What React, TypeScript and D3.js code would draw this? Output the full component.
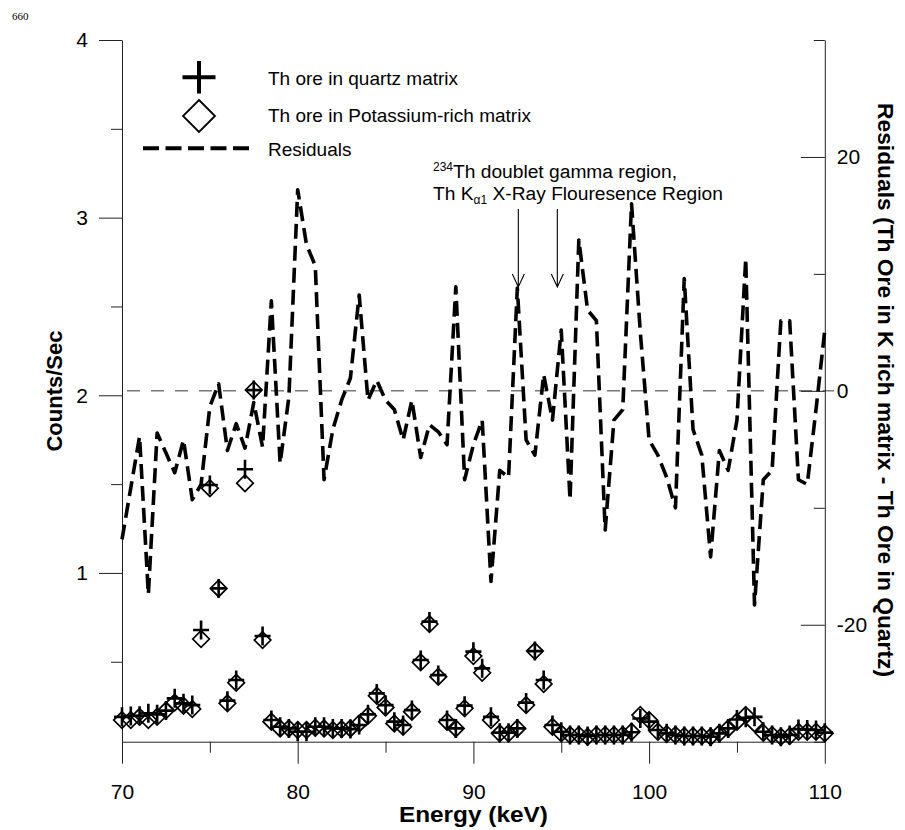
import React, { useEffect, useRef } from "react";
import * as d3 from "d3";

// energy channels (keV)
const energies = [
  70, 70.5, 71, 71.5, 72, 72.5, 73, 73.5, 74, 74.5,
  75, 75.5, 76, 76.5, 77, 77.5, 78, 78.5, 79, 79.5,
  80, 80.5, 81, 81.5, 82, 82.5, 83, 83.5, 84, 84.5,
  85, 85.5, 86, 86.5, 87, 87.5, 88, 88.5, 89, 89.5,
  90, 90.5, 91, 91.5, 92, 92.5, 93, 93.5, 94, 94.5,
  95, 95.5, 96, 96.5, 97, 97.5, 98, 98.5, 99, 99.5,
  100, 100.5, 101, 101.5, 102, 102.5, 103, 103.5, 104, 104.5,
  105, 105.5, 106, 106.5, 107, 107.5, 108, 108.5, 109, 109.5,
  110,
];

// Th ore in quartz matrix (counts/sec)
const quartzCounts = [
  0.19, 0.195, 0.196, 0.21, 0.204, 0.225, 0.294, 0.266, 0.256, 0.679,
  1.495, 0.913, 0.281, 0.397, 1.584, 2.03, 0.645, 0.172, 0.134, 0.125,
  0.106, 0.106, 0.134, 0.134, 0.125, 0.125, 0.121, 0.144, 0.204, 0.322,
  0.256, 0.163, 0.144, 0.228, 0.51, 0.726, 0.425, 0.172, 0.125, 0.253,
  0.557, 0.463, 0.19, 0.101, 0.101, 0.125, 0.27, 0.56, 0.397, 0.144,
  0.106, 0.088, 0.088, 0.082, 0.088, 0.088, 0.088, 0.088, 0.103, 0.181,
  0.163, 0.116, 0.097, 0.088, 0.082, 0.082, 0.082, 0.078, 0.097, 0.125,
  0.175, 0.185, 0.19, 0.106, 0.088, 0.078, 0.088, 0.121, 0.119, 0.116,
  0.101,
];

// Th ore in Potassium-rich matrix (counts/sec)
const potassiumCounts = [
  0.172, 0.172, 0.19, 0.172, 0.19, 0.225, 0.27, 0.253, 0.234, 0.628,
  1.477, 0.913, 0.266, 0.382, 1.505, 2.03, 0.622, 0.163, 0.125, 0.125,
  0.116, 0.116, 0.129, 0.125, 0.116, 0.121, 0.125, 0.153, 0.196, 0.309,
  0.243, 0.153, 0.134, 0.219, 0.497, 0.712, 0.416, 0.163, 0.125, 0.238,
  0.532, 0.438, 0.172, 0.097, 0.097, 0.125, 0.256, 0.56, 0.375, 0.134,
  0.097, 0.088, 0.088, 0.078, 0.088, 0.088, 0.088, 0.088, 0.106, 0.2,
  0.172, 0.106, 0.093, 0.088, 0.082, 0.082, 0.082, 0.078, 0.097, 0.125,
  0.163, 0.2, 0.153, 0.1, 0.088, 0.078, 0.082, 0.106, 0.106, 0.106,
  0.097,
];

// residuals (K rich - quartz), right axis
const residuals = [
  -12.7, -8.3, -3.9, -17.4, -3.6, -5.3, -7.0, -4.2, -9.3, -8.0,
  -1.35, 0.6, -5.1, -2.8, -4.9, -1.0, -4.8, 7.7, -6.2, -0.5,
  17.2, 12.5, 10.7, -7.6, -3.3, -0.8, 1.1, 8.2, -0.8, 0.9,
  -0.8, -1.6, -4.2, -0.8, -5.7, -2.9, -3.5, -4.6, 8.9, -7.6,
  -4.6, -2.5, -16.3, -6.8, -7.4, 8.8, -4.2, -5.5, 1.4, -2.5,
  5.2, -9.3, 12.9, 6.9, 6.0, -11.9, -2.5, -1.6, 16.0, 5.0,
  -4.2, -5.5, -7.4, -10.0, 9.6, -3.3, -5.5, -14.2, -5.1, -6.8,
  -2.5, 11.3, -18.3, -7.6, -6.8, 6.0, 6.0, -7.6, -8.0, -1.6,
  5.2,
];

const countTicks = [1, 2, 3, 4];
const countMinorTicks = [0.5, 1.5, 2.5, 3.5];
const residualTicks = [-20, 0, 20];
const residualMinorTicks = [-30, -10, 10, 30];
const energyTicks = [70, 80, 90, 100, 110];
const energyMinorTicks = [75, 85, 95, 105];
const legendLabels = [
  "Th ore in quartz matrix",
  "Th ore in Potassium-rich matrix",
  "Residuals",
];
const arrowEnergies = [92.556, 94.776];

const W = 905;
const H = 830;
const FONT = '"Liberation Sans", Arial, sans-serif';

export default function App() {
  const svgRef = useRef<SVGSVGElement>(null);

  useEffect(() => {
    if (!svgRef.current) return;
    const svg = d3.select(svgRef.current);
    svg.selectAll("*").remove();

    const x = d3.scaleLinear().domain([70, 110]).range([122, 824.8]);
    const yL = d3.scaleLinear().domain([0.05, 4]).range([741.7, 40]);
    const yR = d3.scaleLinear().domain([-30, 30]).range([741.7, 40]);

    const styleAxis = (g: d3.Selection<SVGGElement, unknown, null, undefined>) => {
      g.attr("font-family", FONT).attr("font-size", 21);
      g.selectAll(".tick line").attr("stroke", "#222");
      g.select(".domain").attr("stroke", "#222");
      g.selectAll(".tick text").attr("fill", "#000");
    };

    // left axis
    svg
      .append("g")
      .attr("transform", "translate(122,0)")
      .call(
        d3.axisLeft(yL).tickValues(countTicks).tickSize(23).tickSizeOuter(0).tickPadding(11)
          .tickFormat((d) => String(d))
      )
      .call(styleAxis);
    svg
      .append("g")
      .attr("transform", "translate(122,0)")
      .call(d3.axisLeft(yL).tickValues(countMinorTicks).tickSize(11).tickFormat(() => ""))
      .call((g) => g.select(".domain").remove())
      .call(styleAxis);

    // right axis
    svg
      .append("g")
      .attr("transform", "translate(824.8,0)")
      .call(
        d3.axisRight(yR).tickValues(residualTicks).tickSize(-24).tickSizeOuter(0).tickPadding(12)
          .tickFormat((d) => String(d))
      )
      .call(styleAxis);
    svg
      .append("g")
      .attr("transform", "translate(824.8,0)")
      .call(d3.axisRight(yR).tickValues(residualMinorTicks).tickSize(-11).tickFormat(() => ""))
      .call((g) => g.select(".domain").remove())
      .call(styleAxis);

    // bottom axis
    svg
      .append("g")
      .attr("transform", "translate(0,741.7)")
      .call(
        d3.axisBottom(x).tickValues(energyTicks).tickSize(22).tickSizeOuter(0).tickPadding(20)
          .tickFormat((d) => String(d))
      )
      .call(styleAxis);
    svg
      .append("g")
      .attr("transform", "translate(0,741.7)")
      .call(d3.axisBottom(x).tickValues(energyMinorTicks).tickSize(11).tickFormat(() => ""))
      .call((g) => g.select(".domain").remove())
      .call(styleAxis);

    // zero line of residuals
    svg
      .append("line")
      .attr("x1", 127)
      .attr("x2", 834)
      .attr("y1", yR(0))
      .attr("y2", yR(0))
      .attr("stroke", "#333")
      .attr("stroke-width", 1)
      .attr("stroke-dasharray", "13,11");

    // residual line
    const line = d3
      .line<number>()
      .x((_, i) => x(energies[i]))
      .y((d) => yR(d));
    svg
      .append("path")
      .attr("d", line(residuals))
      .attr("fill", "none")
      .attr("stroke", "#000")
      .attr("stroke-width", 3.6)
      .attr("stroke-linejoin", "round")
      .attr("stroke-dasharray", "15,7");

    // quartz crosses
    svg
      .append("g")
      .selectAll("path")
      .data(quartzCounts)
      .join("path")
      .attr("d", (d, i) => {
        const cx = x(energies[i]);
        const cy = yL(d);
        return `M${cx - 8},${cy}H${cx + 8}M${cx},${cy - 9.5}V${cy + 9.5}`;
      })
      .attr("stroke", "#000")
      .attr("stroke-width", 2.6)
      .attr("fill", "none");

    // potassium diamonds
    svg
      .append("g")
      .selectAll("path")
      .data(potassiumCounts)
      .join("path")
      .attr("d", (d, i) => {
        const cx = x(energies[i]);
        const cy = yL(d);
        const r = 8.3;
        return `M${cx},${cy - r}L${cx + r},${cy}L${cx},${cy + r}L${cx - r},${cy}Z`;
      })
      .attr("stroke", "#000")
      .attr("stroke-width", 1.7)
      .attr("fill", "none");

    // legend
    const lg = svg.append("g");
    lg.append("path")
      .attr("d", "M182.5,77.3H215.5M199,61V93.5")
      .attr("stroke", "#000")
      .attr("stroke-width", 4);
    lg.append("path")
      .attr("d", "M199,100L215,116L199,132L183,116Z")
      .attr("fill", "none")
      .attr("stroke", "#000")
      .attr("stroke-width", 1.8);
    lg.append("line")
      .attr("x1", 143)
      .attr("x2", 250)
      .attr("y1", 148.3)
      .attr("y2", 148.3)
      .attr("stroke", "#000")
      .attr("stroke-width", 4)
      .attr("stroke-dasharray", "16,6.5");
    lg.selectAll("text")
      .data(legendLabels)
      .join("text")
      .attr("x", 268)
      .attr("y", (_, i) => [85, 121.7, 156][i])
      .attr("font-family", FONT)
      .attr("font-size", 19)
      .text((d) => d);

    // annotation
    const ann = svg.append("g").attr("font-family", FONT).attr("font-size", 19.2);
    const t1 = ann.append("text").attr("x", 433).attr("y", 178.3);
    t1.append("tspan").attr("font-size", 12).attr("dy", -7).text("234");
    t1.append("tspan").attr("dy", 7).text("Th doublet gamma region,");
    const t2 = ann.append("text").attr("x", 433).attr("y", 200);
    t2.append("tspan").text("Th K");
    t2.append("tspan").attr("font-size", 12).attr("dy", 3.5).text("\u03b11");
    t2.append("tspan").attr("dy", -3.5).text(" X-Ray Flouresence Region");

    arrowEnergies.forEach((e) => {
      const ax = x(e);
      svg
        .append("path")
        .attr("d", `M${ax},209V287M${ax - 6},274L${ax},287L${ax + 6},274`)
        .attr("fill", "none")
        .attr("stroke", "#000")
        .attr("stroke-width", 1.1);
    });

    // axis titles
    svg
      .append("text")
      .attr("transform", "translate(62,391) rotate(-90)")
      .attr("text-anchor", "middle")
      .attr("font-family", FONT)
      .attr("font-weight", "bold")
      .attr("font-size", 22)
      .text("Counts/Sec");
    svg
      .append("text")
      .attr("x", 473.4)
      .attr("y", 822)
      .attr("text-anchor", "middle")
      .attr("font-family", FONT)
      .attr("font-weight", "bold")
      .attr("font-size", 22.5)
      .attr("textLength", 149)
      .attr("lengthAdjust", "spacingAndGlyphs")
      .text("Energy (keV)");
    svg
      .append("text")
      .attr("transform", "translate(878,390) rotate(90)")
      .attr("text-anchor", "middle")
      .attr("font-family", FONT)
      .attr("font-weight", "bold")
      .attr("font-size", 22)
      .attr("textLength", 574)
      .attr("lengthAdjust", "spacingAndGlyphs")
      .text("Residuals (Th Ore in K rich matrix - Th Ore in Quartz)");

    // page number in corner
    svg
      .append("text")
      .attr("x", 12)
      .attr("y", 20)
      .attr("font-family", '"Liberation Serif", serif')
      .attr("font-size", 11)
      .text("660");
  }, []);

  return (
    <svg
      ref={svgRef}
      width={W}
      height={H}
      style={{ position: "absolute", left: 0, top: 0, background: "#fff" }}
    />
  );
}
